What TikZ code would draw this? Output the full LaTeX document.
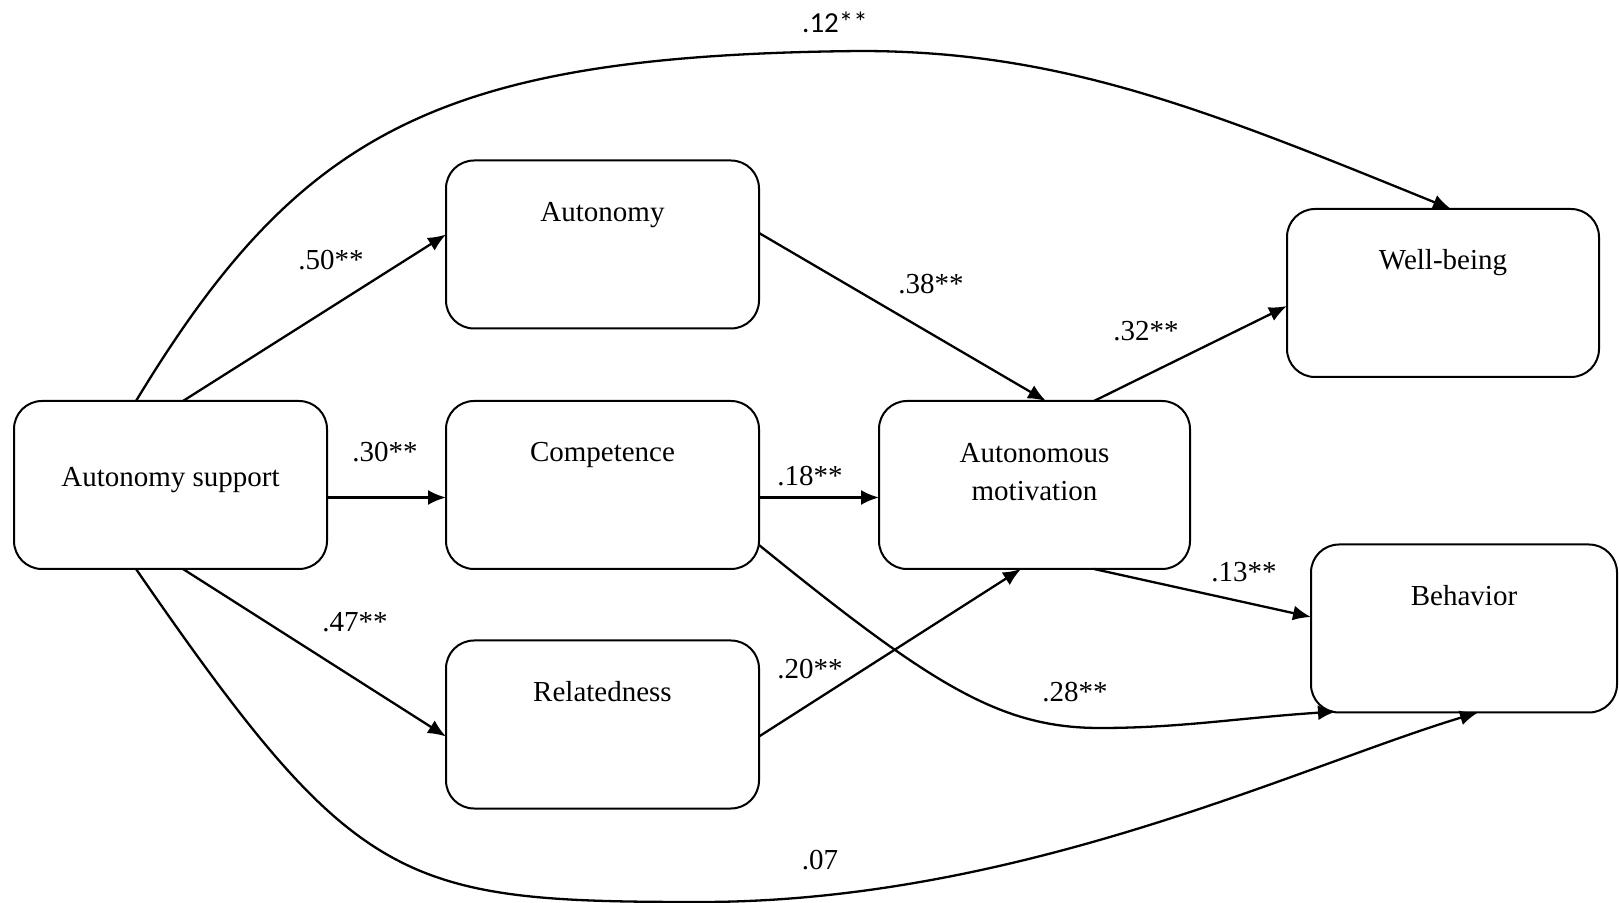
\documentclass[tikz,border=0pt]{standalone}
\usepackage{fontspec}
\setmainfont{Liberation Serif}
\newfontfamily\calibfont{Carlito}
\usetikzlibrary{arrows.meta,calc}
\begin{document}
\begin{tikzpicture}[x=0.5pt,y=-0.5pt,
  box/.style={draw, line width=1pt, rounded corners=14pt, minimum width=156.5pt, minimum height=84pt, inner sep=0pt, outer sep=0pt},
  boxtxt/.style={anchor=base, inner sep=0pt, font=\fontsize{14.5pt}{19pt}\selectfont},
  arr/.style={line width=1.15pt, -{Latex[length=9pt,width=7.5pt]}},
  coef/.style={inner sep=0pt, anchor=center, font=\fontsize{14.5pt}{19pt}\selectfont},
]
\useasboundingbox (0,0) rectangle (1619,903);

% boxes
\node[box, label={[boxtxt,yshift=-42.85pt]north:Autonomy support}] (as) at (170.5,485) {};
\node[box, label={[boxtxt,yshift=-30.5pt]north:Autonomy}] (aut) at (602.5,244.5) {};
\node[box, label={[boxtxt,yshift=-30.5pt]north:Competence}] (comp) at (602.5,485) {};
\node[box, label={[boxtxt,yshift=-30.5pt]north:Relatedness}] (rel) at (602.5,724.5) {};
\node[box, minimum width=155.5pt, label={[boxtxt,anchor=north,align=center,yshift=-21pt]north:Autonomous\\motivation}] (am) at (1034.5,485) {};
\node[box, minimum width=156pt, label={[boxtxt,yshift=-30.5pt]north:Well-being}] (wb) at (1443,293) {};
\node[box, minimum width=153pt, label={[boxtxt,yshift=-30.5pt]north:Behavior}] (beh) at (1464,628.5) {};

% coefficients
\node[coef] (c50) at (331,260) {.50**};
\node[coef] (c30) at (385,452) {.30**};
\node[coef] (c47) at (355,622) {.47**};
\node[coef] (c38) at (931,284) {.38**};
\node[coef] (c18) at (810,476) {.18**};
\node[coef] (c20) at (810,669) {.20**};
\node[coef] (c32) at (1146,331) {.32**};
\node[coef] (c13) at (1244,572) {.13**};
\node[coef] (c28) at (1075,692) {.28**};
\node[coef] (c07) at (820,860) {.07};
\node[coef, font=\calibfont\fontsize{14.5pt}{19pt}\selectfont] (c12) at (835,22) {.12**};

% straight paths
\draw[arr] ($(as.north west)+(169,0)$) -- ($(aut.west)+(0,-10)$);
\draw[arr] ($(as.east)+(0,12.5)$) -- ($(comp.west)+(0,12.5)$);
\draw[arr] ($(as.south west)+(169,0)$) -- ($(rel.west)+(0,12)$);
\draw[arr] ($(aut.east)+(0,-11.5)$) -- ($(am.north west)+(167,0)$);
\draw[arr] ($(comp.east)+(0,12.5)$) -- ($(am.west)+(0,12.5)$);
\draw[arr] ($(rel.east)+(0,12)$) -- ($(am.south west)+(142,0)$);
\draw[arr] ($(am.north west)+(215,0)$) -- ($(wb.west)+(0,13)$);
\draw[arr] ($(am.south west)+(215,0)$) -- ($(beh.west)+(0,-11.5)$);

% curved paths
\draw[arr] ($(comp.south east)+(0,-24)$) .. controls (931.5,685) and (1000,728) .. (1100,728)
  .. controls (1180,728) and (1238,718) .. ($(beh.south west)+(25,-1)$);
\draw[arr] ($(as.north west)+(122,0)$) .. controls (300,130) and (440,55) .. (860,51)
  .. controls (1060,51) and (1203,108) .. ($(wb.north west)+(164,0)$);
\draw[arr] ($(as.south west)+(122,0)$) .. controls (356,888) and (400,902) .. (700,902)
  .. controls (1020,902) and (1300,766) .. ($(beh.south west)+(167,0)$);
\end{tikzpicture}
\end{document}
